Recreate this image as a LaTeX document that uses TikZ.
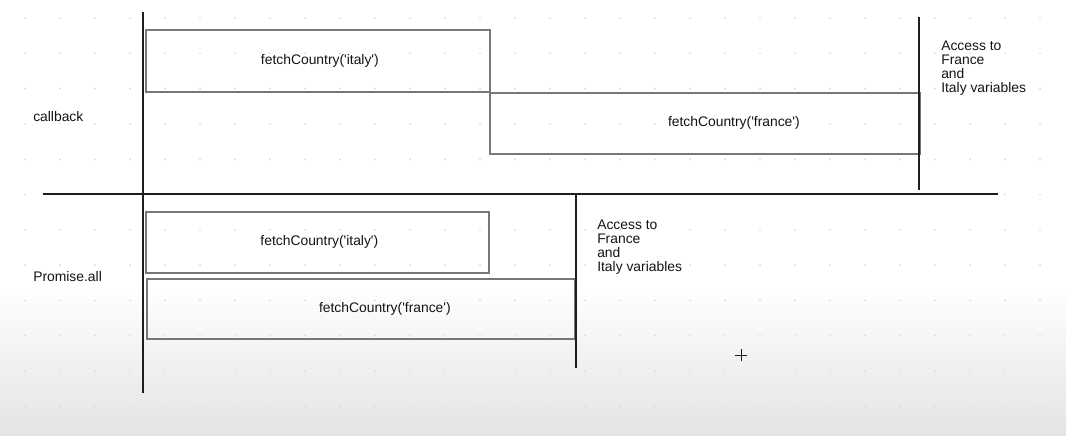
\documentclass[tikz,border=0pt]{standalone}
\usepackage{fontspec}
\setmainfont{Liberation Sans}[Ligatures=TeXOff]
\usepackage{tikz}
\usetikzlibrary{positioning,calc}
\definecolor{axisblack}{HTML}{1E1E1E}
\definecolor{boxgrey}{HTML}{777777}
\definecolor{dotgrey}{HTML}{D6D6D6}
\definecolor{shadegrey}{HTML}{E4E4E4}

\begin{document}
\begin{tikzpicture}[
  x=0.75pt,y=-0.75pt,
  font=\fontsize{10.4}{10.5}\selectfont,
  axis/.style={draw=axisblack,line width=1.4pt},
  call/.style={draw=boxgrey,line width=1.3pt,inner sep=0pt,anchor=north west},
  txt/.style={inner sep=0pt,text=black!92},
  note/.style={inner sep=0pt,align=left,anchor=north west,text=black!92}]

% ---- canvas: white page, dot grid, grey shade at the foot ----
\useasboundingbox (0,0) rectangle (1066,435);
\fill[white] (0,0) rectangle (1066,435);
\shade[top color=white,bottom color=shadegrey] (0,285) rectangle (1066,435);
\foreach \gx in {0,...,29}
  \foreach \gy in {0,...,11}
    \fill[dotgrey] ({25+35*\gx},{18+35.3*\gy}) circle (0.9);

% ---- time axis and the line between the two cases ----
\coordinate (axtop) at (143,12);
\coordinate (axbot) at (143,393);
\coordinate (divl) at (43,194);
\coordinate (divr) at (998,194);
\draw[axis] (axtop) -- (axbot);
\draw[axis] (divl) -- (divr);

% ---- callback: one call after the other ----
\node[txt,anchor=west] (cbname) at (33,117) {callback};
\node[call,minimum width={344*0.75pt},minimum height={62*0.75pt}] (cbitaly) at (145,29) {};
\node[txt] (cbitalyt) at ($(cbitaly.center)+(2,0)$) {fetchCountry('italy')};
\node[call,minimum width={430*0.75pt},minimum height={61*0.75pt}] (cbfrance) at (489,92) {};
\node[txt] (cbfrancet) at ($(cbfrance.center)+(29,0)$) {fetchCountry('france')};
\coordinate (cbdonetop) at (919,17);
\coordinate (cbdonebot) at (919,190);
\draw[axis] (cbdonetop) -- (cbdonebot);
\node[note] (cbaccess) at (941,41) {Access to\\France\\and\\Italy variables};

% ---- Promise.all: both calls at once ----
\node[txt,anchor=west] (paname) at (33,277) {Promise.all};
\node[call,minimum width={343*0.75pt},minimum height={61*0.75pt}] (paitaly) at (145,211) {};
\node[txt] (paitalyt) at ($(paitaly.center)+(2,0)$) {fetchCountry('italy')};
\node[call,minimum width={428*0.75pt},minimum height={60*0.75pt}] (pafrance) at (146,278) {};
\node[txt] (pafrancet) at ($(pafrance.center)+(24,0)$) {fetchCountry('france')};
\coordinate (padonetop) at (576,194);
\coordinate (padonebot) at (576,368);
\draw[axis] (padonetop) -- (padonebot);
\node[note] (paaccess) at (597,220) {Access to\\France\\and\\Italy variables};

% ---- pointer left on the page ----
\coordinate (ptr) at (741,355);
\draw[axisblack,line width=0.7pt] ($(ptr)+(-6,0)$) -- ($(ptr)+(6,0)$)
  ($(ptr)+(0,-6)$) -- ($(ptr)+(0,6)$);
\end{tikzpicture}
\end{document}
